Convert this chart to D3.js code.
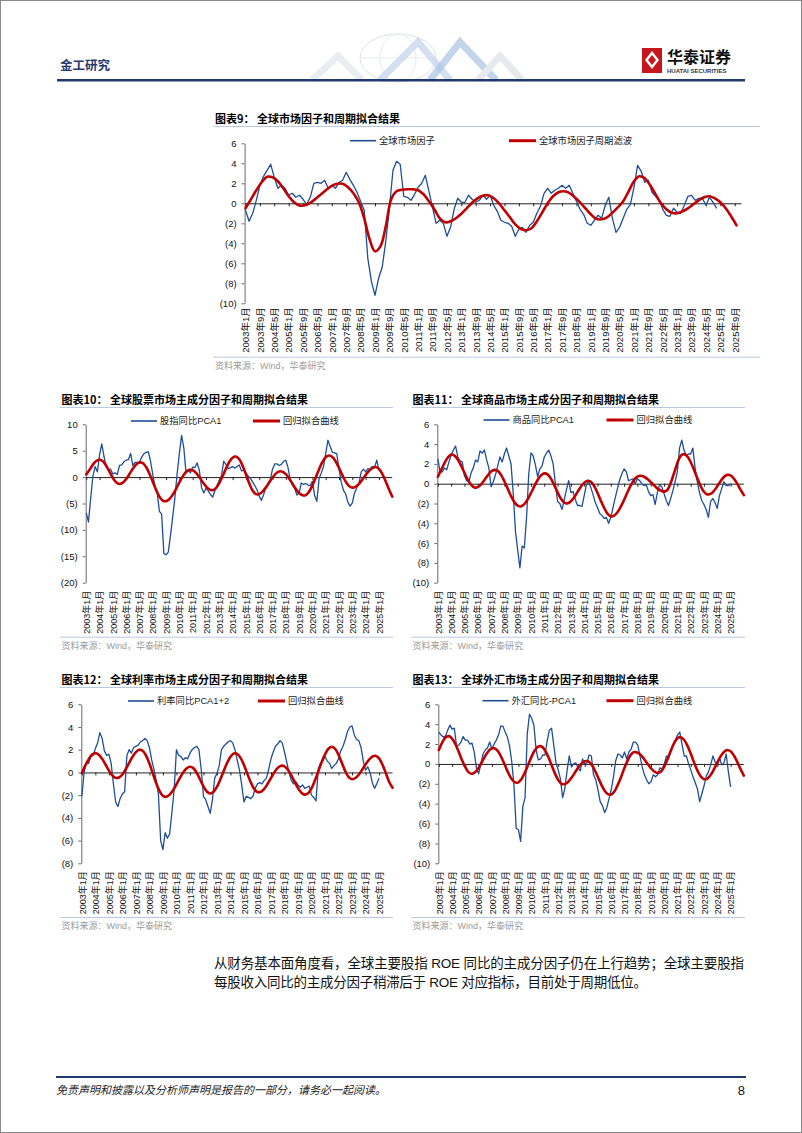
<!DOCTYPE html>
<html><head><meta charset="utf-8">
<script src="https://cdn.jsdelivr.net/npm/d3@7"></script>
<style>body{margin:0;background:#fff;}svg{display:block;}</style>
</head><body>
<svg id="page" width="802" height="1133"></svg>
<script>
// ---------------- DATA ----------------
// Month index 0 = 2003年1月. Blue series sampled every 2 months, red fits every 3 months.
const xLabels9 = ["2003年1月","2003年9月","2004年5月","2005年1月","2005年9月","2006年5月","2007年1月","2007年9月","2008年5月","2009年1月","2009年9月","2010年5月","2011年1月","2011年9月","2012年5月","2013年1月","2013年9月","2014年5月","2015年1月","2015年9月","2016年5月","2017年1月","2017年9月","2018年5月","2019年1月","2019年9月","2020年5月","2021年1月","2021年9月","2022年5月","2023年1月","2023年9月","2024年5月","2025年1月","2025年9月"];
const xLabelsYear = ["2003年1月","2004年1月","2005年1月","2006年1月","2007年1月","2008年1月","2009年1月","2010年1月","2011年1月","2012年1月","2013年1月","2014年1月","2015年1月","2016年1月","2017年1月","2018年1月","2019年1月","2020年1月","2021年1月","2022年1月","2023年1月","2024年1月","2025年1月"];

const yTicks9 = [6,4,2,0,-2,-4,-6,-8,-10];
const yTicks10 = [10,5,0,-5,-10,-15,-20];
const yTicks11 = [6,4,2,0,-2,-4,-6,-8,-10];
const yTicks12 = [6,4,2,0,-2,-4,-6,-8];
const yTicks13 = [6,4,2,0,-2,-4,-6,-8,-10];

const blue9 = [-0.7,-1.8,-1.0,0.3,1.8,2.7,3.3,3.9,2.6,1.5,
 1.8,1.5,0.8,1.0,0.6,0.8,0.4,-0.1,0.6,2.0,
 2.1,2.0,2.3,1.5,1.8,1.5,2.1,2.3,3.1,2.4,
 1.8,1.1,0.2,-0.7,-5.5,-7.8,-9.2,-7.5,-6.4,-3.8,
 -0.5,3.3,4.2,3.9,0.7,0.6,0.3,0.9,1.6,2.0,
 2.8,1.2,-0.4,-2.0,-1.7,-2.0,-3.3,-2.4,-0.6,0.5,
 0.1,0.1,0.8,0.4,0.1,0.3,0.8,0.4,0.8,-0.2,
 -0.8,-1.7,-1.9,-2.0,-2.3,-3.3,-2.6,-2.4,-2.9,-2.2,
 -1.9,-1.0,-0.3,1.0,1.5,1.0,1.3,1.5,1.8,1.5,
 1.8,1.0,0.2,-0.6,-1.1,-2.0,-2.2,-1.7,-1.2,-1.5,
 -0.2,0.6,-1.5,-2.9,-2.4,-1.5,-0.6,-0.1,1.6,3.8,
 3.2,2.1,2.3,1.1,0.7,0.3,-0.6,-1.2,-1.3,-0.5,
 -0.9,-1.0,-0.2,0.7,0.8,0.3,0.5,0.5,-0.2,0.6,
 0.1,-0.5];
const red9 = [-0.5,0.4,1.3,2.1,2.65,2.6,2.2,1.5,0.7,0.1,
 -0.22,-0.2,0.05,0.45,0.9,1.35,1.75,1.95,1.95,1.6,
 1.0,0.1,-1.5,-3.6,-4.8,-4.3,-2.3,0.4,1.2,1.35,
 1.4,1.4,1.3,0.9,0.2,-0.6,-1.5,-1.9,-1.8,-1.5,
 -1.05,-0.5,0.05,0.5,0.75,0.8,0.5,0.0,-0.7,-1.4,
 -2.1,-2.55,-2.7,-2.5,-1.8,-0.9,0.0,0.7,1.1,1.2,
 1.05,0.6,0.1,-0.5,-1.1,-1.55,-1.6,-1.4,-0.95,-0.4,
 0.2,1.2,2.2,2.7,2.5,1.8,0.9,0.0,-0.6,-0.95,
 -1.0,-0.8,-0.5,-0.1,0.3,0.6,0.7,0.5,0.1,-0.5,
 -1.3,-2.2];

const blue10 = [-6.8,-8.5,-4.0,0.2,2.0,1.0,4.2,6.3,3.9,2.0,
 1.4,1.5,0.6,0.8,0.5,2.2,2.3,2.9,3.2,3.3,
 4.5,2.2,2.8,2.8,2.8,3.8,4.4,4.7,4.8,3.0,
 0.5,-1.8,-3.0,-6.5,-7.0,-14.5,-14.7,-14.2,-11.0,-7.5,
 -3.8,0.7,4.5,7.9,5.5,0.8,1.3,0.8,1.9,1.8,
 2.7,1.3,-2.0,-3.0,-2.1,-2.6,-3.3,-3.8,-2.6,-1.6,
 -0.6,0.3,3.0,2.4,1.6,1.8,2.0,1.7,2.0,2.3,
 1.2,1.3,0.8,0.2,-0.2,-0.9,-1.6,-2.4,-3.6,-4.4,
 -3.3,-2.0,-1.2,-0.5,1.5,2.5,2.5,2.2,2.4,3.0,
 3.2,1.8,-0.6,-1.5,-2.1,-3.4,-3.0,-1.1,-1.4,-1.2,
 -1.5,-1.6,-0.8,-3.5,-4.6,-0.3,0.8,2.0,4.5,7.0,
 5.8,4.7,4.6,4.4,1.5,-1.0,-2.5,-3.2,-4.8,-5.5,
 -4.9,-3.0,-2.0,-1.2,1.0,1.5,1.0,1.6,1.5,2.0,
 1.8,3.2,1.3];
const red10 = [0.5,1.4,2.35,3.05,3.3,2.99,2.15,1.0,-0.15,-0.99,
 -1.3,-1.05,-0.37,0.58,1.58,2.37,2.77,2.65,1.9,0.63,
 -0.9,-2.43,-3.7,-4.45,-4.57,-4.16,-3.33,-2.21,-0.99,0.14,
 0.96,1.37,1.3,0.8,0.0,-0.94,-1.76,-2.34,-2.49,-2.08,
 -1.12,0.2,1.61,2.86,3.66,3.89,3.38,2.16,0.52,-1.18,
 -2.53,-3.23,-3.22,-2.76,-1.97,-1.02,-0.09,0.66,1.06,1.03,
 0.56,-0.26,-1.25,-2.24,-3.02,-3.45,-3.41,-2.75,-1.57,-0.07,
 1.5,2.86,3.77,4.1,3.8,2.95,1.73,0.37,-0.85,-1.7,
 -2.0,-1.81,-1.27,-0.48,0.38,1.17,1.71,1.9,1.56,0.6,
 -0.78,-2.3,-3.7];

const blue11 = [2.5,1.2,1.2,1.6,1.4,2.2,2.9,3.4,3.8,2.7,
 2.3,2.2,0.8,0.3,0.2,1.1,1.6,2.4,2.2,3.3,
 3.1,3.4,2.4,1.6,-0.3,0.2,0.9,1.8,2.7,2.2,
 3.0,3.6,2.8,2.0,-1.0,-4.8,-6.7,-8.5,-6.3,-6.5,
 -3.4,1.0,3.1,2.8,1.9,0.7,1.5,1.8,2.7,3.1,
 3.4,2.8,2.0,0.0,-1.8,-2.0,-2.6,-1.6,-0.6,0.3,
 -0.9,-0.8,-1.6,-2.2,-2.2,-2.3,-1.2,-0.1,0.2,-0.4,
 -1.1,-1.9,-2.4,-3.0,-3.2,-3.5,-3.4,-4.0,-3.4,-2.4,
 -1.4,-0.5,0.4,1.0,1.5,1.2,0.3,0.4,0.5,0.0,
 0.5,0.3,0.0,-0.2,-0.1,-0.8,-1.2,-1.1,-2.1,-0.9,
 -0.1,-0.3,-1.0,-1.7,-2.2,-1.5,-0.7,0.2,1.2,3.6,
 4.4,3.4,2.9,3.0,3.0,3.6,1.6,0.2,-0.9,-1.7,
 -2.1,-2.6,-3.4,-1.8,-1.5,-1.9,-2.5,-1.2,-0.5,0.2,
 -0.2,-0.2,0.0];
const red11 = [0.7,1.4,2.1,2.65,2.95,2.83,2.43,1.81,1.09,0.42,
 -0.11,-0.38,-0.35,-0.07,0.37,0.84,1.23,1.4,1.29,0.89,
 0.25,-0.5,-1.25,-1.86,-2.22,-2.29,-2.06,-1.58,-0.94,-0.25,
 0.38,0.84,1.04,0.94,0.51,-0.15,-0.88,-1.51,-1.91,-1.99,
 -1.78,-1.37,-0.83,-0.3,0.1,0.29,0.2,-0.23,-0.92,-1.72,
 -2.44,-3.03,-3.29,-3.22,-2.88,-2.31,-1.63,-0.87,-0.18,0.39,
 0.72,0.8,0.7,0.47,0.17,-0.16,-0.47,-0.69,-0.8,-0.64,
 0.07,1.06,2.08,2.81,2.99,2.75,2.19,1.42,0.56,-0.22,
 -0.81,-1.08,-1.03,-0.73,-0.26,0.24,0.67,0.89,0.84,0.52,
 0.0,-0.6,-1.16];

const blue12 = [-2.1,0.0,0.9,0.8,1.4,1.5,2.1,2.6,3.5,3.0,
 1.9,1.5,1.6,0.8,-1.0,-2.6,-3.0,-2.3,-1.9,-1.7,
 1.5,2.0,1.7,2.2,2.3,2.4,2.7,2.8,3.0,2.8,
 2.2,1.1,0.3,-0.7,-1.9,-6.0,-6.8,-5.3,-5.8,-5.4,
 -3.5,-1.5,2.0,1.5,1.4,1.1,1.3,1.2,1.7,2.0,
 2.2,2.3,2.0,0.3,-2.1,-2.4,-3.0,-3.6,-2.4,-0.5,
 -0.1,0.6,2.0,2.3,2.5,2.7,2.8,2.6,2.0,1.1,
 0.2,-1.1,-2.6,-2.1,-2.2,-2.3,-2.1,-1.4,-1.0,-0.9,
 -1.0,-0.7,-0.5,0.3,1.2,1.8,2.3,2.5,2.8,2.6,
 1.8,0.9,0.0,-0.7,-1.0,-0.8,-1.1,-1.3,-1.1,-1.4,
 -1.3,-1.2,-2.0,-2.2,-2.5,0.3,0.8,1.0,1.4,1.0,
 0.8,0.35,0.6,0.8,1.2,1.9,2.3,2.9,3.6,4.0,
 4.1,3.3,2.9,2.8,2.2,1.0,0.2,0.5,0.0,-0.9,
 -1.4,-1.0,-0.5];
const red12 = [-0.05,0.6,1.15,1.55,1.7,1.56,1.2,0.7,0.18,-0.25,
 -0.48,-0.45,-0.18,0.28,0.84,1.38,1.79,1.99,1.91,1.48,
 0.78,-0.08,-0.93,-1.63,-2.06,-2.14,-1.95,-1.57,-1.06,-0.5,
 0.0,0.35,0.5,0.38,-0.03,-0.62,-1.22,-1.68,-1.85,-1.7,
 -1.27,-0.62,0.12,0.83,1.38,1.67,1.64,1.28,0.65,-0.12,
 -0.86,-1.44,-1.73,-1.7,-1.44,-1.0,-0.49,0.01,0.4,0.59,
 0.54,0.24,-0.25,-0.83,-1.38,-1.78,-1.95,-1.83,-1.4,-0.72,
 0.08,0.91,1.59,2.09,2.26,2.08,1.55,0.83,0.11,-0.41,
 -0.6,-0.49,-0.19,0.24,0.71,1.11,1.39,1.47,1.24,0.69,
 -0.05,-0.84,-1.35];

const blue13 = [3.2,2.9,2.7,2.8,3.4,3.9,3.5,3.6,1.8,1.9,
 2.2,2.75,2.4,2.4,2.0,2.1,1.2,-0.4,-1.0,0.0,
 1.0,1.4,1.6,2.2,1.5,2.0,2.4,2.9,3.8,3.8,
 3.2,2.7,1.8,0.2,-2.2,-6.5,-6.6,-7.8,-4.3,-3.4,
 3.0,5.0,4.6,3.9,1.4,0.4,0.5,0.9,0.9,2.3,
 3.4,3.6,1.9,0.1,-0.6,-1.5,-3.4,-2.5,-0.7,0.8,
 -0.3,0.0,0.1,-0.4,-0.7,0.5,0.0,0.1,0.9,0.8,
 -1.1,-1.6,-2.6,-3.8,-4.2,-4.9,-4.4,-3.5,-2.6,-1.3,
 0.3,1.0,0.9,0.6,1.2,0.5,1.2,1.5,2.2,2.2,
 1.9,0.8,-0.3,-1.1,-1.6,-2.0,-1.8,-1.1,-1.3,-1.1,
 -0.4,-0.5,0.0,0.8,0.6,1.4,1.9,2.4,2.9,3.2,
 2.0,0.8,0.8,0.0,-0.6,-1.3,-1.9,-2.5,-3.8,-3.0,
 -2.2,-1.2,-0.8,-0.1,0.8,0.2,-0.1,0.6,-0.1,0.1,
 1.0,-0.8,-2.3];
const red13 = [1.4,2.15,2.66,2.8,2.55,1.98,1.21,0.37,-0.35,-0.85,
 -1.0,-0.82,-0.39,0.19,0.81,1.3,1.57,1.54,1.19,0.57,
 -0.19,-0.94,-1.54,-1.86,-1.85,-1.48,-0.83,-0.04,0.76,1.39,
 1.76,1.75,1.38,0.72,-0.11,-0.95,-1.61,-2.0,-2.02,-1.81,
 -1.4,-0.9,-0.39,0.02,0.26,0.27,-0.04,-0.61,-1.34,-2.08,
 -2.69,-3.04,-3.07,-2.74,-2.07,-1.28,-0.39,0.38,0.97,1.2,
 1.12,0.86,0.45,-0.01,-0.44,-0.76,-0.9,-0.77,-0.26,0.5,
 1.36,2.11,2.59,2.69,2.41,1.82,1.02,0.13,-0.67,-1.26,
 -1.54,-1.47,-1.1,-0.53,0.14,0.77,1.21,1.4,1.27,0.84,
 0.2,-0.53,-1.17];

const BLUE_STEP = 2, RED_STEP = 3, N_MONTHS = 276;

// ---------------- STYLE ----------------
const CJK = '"Noto Sans CJK SC", sans-serif';
const LAT = '"Liberation Sans", Arial, "Noto Sans CJK SC", sans-serif';
const BLUE = '#1f4e96', RED = '#c00000', RULE = '#b9c9df', NAVY = '#1f3a6d';

const svg = d3.select('#page');
svg.append('rect').attr('x',0.5).attr('y',0.5).attr('width',801).attr('height',1132)
  .attr('fill','#fff').attr('stroke','#8a8a8a');

// ---------------- HEADER ----------------
const hdr = svg.append('g');
const deco = hdr.append('g').attr('fill','none');
deco.append('ellipse').attr('cx',398).attr('cy',58).attr('rx',38).attr('ry',24).attr('stroke','#dde2ea').attr('stroke-width',1);
deco.append('ellipse').attr('cx',398).attr('cy',58).attr('rx',18).attr('ry',24).attr('stroke','#e6eaf0').attr('stroke-width',1);
deco.append('line').attr('x1',360).attr('x2',436).attr('y1',58).attr('y2',58).attr('stroke','#e6eaf0');
deco.append('polyline').attr('points','312,80 338,56 362,80').attr('stroke','#eaeef3').attr('stroke-width',7);
deco.append('polyline').attr('points','380,80 418,42 450,80').attr('stroke','#c9d8ec').attr('stroke-width',7).attr('opacity',0.8);
deco.append('polyline').attr('points','430,80 460,42 496,80').attr('stroke','#a9c3e6').attr('stroke-width',7).attr('opacity',0.7);
deco.append('polyline').attr('points','478,80 500,56 522,80').attr('stroke','#e6eaef').attr('stroke-width',7);
hdr.append('text').attr('x',60).attr('y',70).attr('font-family',CJK).attr('font-weight',700)
  .attr('font-size',12.5).attr('fill',NAVY).text('金工研究');
hdr.append('rect').attr('x',57).attr('y',79).attr('width',688).attr('height',2.5).attr('fill',NAVY);
hdr.append('rect').attr('x',642).attr('y',48).attr('width',20).attr('height',25).attr('fill','#c8161d');
hdr.append('path').attr('d','M652,51 L659,60 L652,69 L645,60 Z').attr('fill','#fff');
hdr.append('path').attr('d','M652,55 L656,60 L652,65 L648,60 Z').attr('fill','#c8161d');
hdr.append('text').attr('x',667).attr('y',63).attr('font-family',CJK).attr('font-weight',700)
  .attr('font-size',16).attr('fill','#111').text('华泰证券');
hdr.append('text').attr('x',667).attr('y',73).attr('font-family',LAT).attr('font-weight',700)
  .attr('font-size',6).attr('fill','#333').text('HUATAI SECURITIES');

// ---------------- CHARTS ----------------
const fmt = v => v < 0 ? `(${-v})` : `${v}`;

function drawChart(c) {
  const g = svg.append('g');
  const x = d3.scaleLinear().domain([-0.5, N_MONTHS - 0.5]).range([c.left, c.right]);
  const y = d3.scaleLinear().domain([c.yMin, c.yMax]).range([c.bottom, c.top]);

  g.append('text').attr('x', c.titleX).attr('y', c.titleY).attr('font-family', CJK)
    .attr('font-weight', 700).attr('font-size', 11).attr('fill', '#000').text(c.title);
  g.append('line').attr('x1', c.ruleX1).attr('x2', c.ruleX2).attr('y1', c.titleY + 3.5).attr('y2', c.titleY + 3.5)
    .attr('stroke', RULE).attr('stroke-width', 1);

  const ya = g.append('g').attr('transform', `translate(${c.left},0)`)
    .call(d3.axisLeft(y).tickValues(c.yTicks).tickSize(3).tickSizeOuter(0).tickPadding(5).tickFormat(fmt));
  ya.select('.domain').attr('stroke', '#6a6a6a');
  ya.selectAll('.tick line').attr('stroke', '#6a6a6a');
  ya.selectAll('.tick text').attr('font-family', LAT).attr('font-size', 9.5).attr('fill', '#111');

  const tickMonths = c.xLabels.map((d, i) => i * c.xStep);
  const za = g.append('g').attr('transform', `translate(0,${y(0)})`)
    .call(d3.axisBottom(x).tickValues(tickMonths).tickSize(3).tickSizeOuter(0).tickFormat(''));
  za.select('.domain').attr('stroke', '#222');
  za.selectAll('.tick line').attr('stroke', '#222');

  const la = g.append('g').attr('transform', `translate(0,${c.bottom})`)
    .call(d3.axisBottom(x).tickValues(tickMonths).tickSize(0).tickFormat((d, i) => c.xLabels[i]));
  la.select('.domain').remove();
  la.selectAll('.tick text').attr('font-family', LAT).attr('font-size', c.xFont).attr('fill', '#111')
    .attr('transform', 'rotate(-90)').attr('text-anchor', 'end')
    .attr('x', -c.labelGap).attr('y', 0).attr('dy', '0.35em');

  const lineBlue = d3.line().x((d, i) => x(i * BLUE_STEP)).y(d => y(d));
  const lineRed = d3.line().x((d, i) => x(i * RED_STEP)).y(d => y(d)).curve(d3.curveCatmullRom);
  g.append('path').datum(c.blue).attr('d', lineBlue).attr('fill', 'none')
    .attr('stroke', BLUE).attr('stroke-width', 1.3).attr('stroke-linejoin', 'round');
  g.append('path').datum(c.red).attr('d', lineRed).attr('fill', 'none')
    .attr('stroke', RED).attr('stroke-width', 2.6).attr('stroke-linecap', 'round');

  const lg = g.append('g');
  lg.append('line').attr('x1', c.leg[0]).attr('x2', c.leg[0] + 26).attr('y1', c.legY).attr('y2', c.legY)
    .attr('stroke', BLUE).attr('stroke-width', 1.6);
  lg.append('text').attr('x', c.leg[0] + 29).attr('y', c.legY).attr('dy', '0.35em')
    .attr('font-family', LAT).attr('font-size', 9.3).attr('fill', '#222').text(c.blueName);
  lg.append('line').attr('x1', c.leg[1]).attr('x2', c.leg[1] + 27).attr('y1', c.legY).attr('y2', c.legY)
    .attr('stroke', RED).attr('stroke-width', 3);
  lg.append('text').attr('x', c.leg[1] + 30).attr('y', c.legY).attr('dy', '0.35em')
    .attr('font-family', LAT).attr('font-size', 9.3).attr('fill', '#222').text(c.redName);

  g.append('line').attr('x1', c.ruleX1).attr('x2', c.ruleX2).attr('y1', c.srcY - 8.5).attr('y2', c.srcY - 8.5)
    .attr('stroke', RULE).attr('stroke-width', 1);
  g.append('text').attr('x', c.titleX).attr('y', c.srcY).attr('dy', '0.35em').attr('font-family', LAT)
    .attr('font-size', 9).attr('fill', '#9a9a9a').text('资料来源：Wind，华泰研究');
}

const charts = [
  {title:'图表9： 全球市场因子和周期拟合结果', titleX:215, titleY:123, ruleX1:213, ruleX2:760,
   left:244.6, right:741, top:143.3, bottom:303.3, yMin:-10, yMax:6, yTicks:yTicks9,
   xLabels:xLabels9, xStep:8, xFont:9.5, labelGap:4,
   blue:blue9, red:red9, blueName:'全球市场因子', redName:'全球市场因子周期滤波',
   leg:[350, 509], legY:140.7, srcY:365.7},
  {title:'图表10： 全球股票市场主成分因子和周期拟合结果', titleX:61.5, titleY:404, ruleX1:60, ruleX2:393,
   left:85.7, right:391.7, top:424.3, bottom:582.7, yMin:-20, yMax:10, yTicks:yTicks10,
   xLabels:xLabelsYear, xStep:12, xFont:9, labelGap:8,
   blue:blue10, red:red10, blueName:'股指同比PCA1', redName:'回归拟合曲线',
   leg:[131, 253], legY:421, srcY:645.7},
  {title:'图表11： 全球商品市场主成分因子和周期拟合结果', titleX:412.5, titleY:404, ruleX1:411, ruleX2:745,
   left:437.3, right:743.3, top:424.3, bottom:582.7, yMin:-10, yMax:6, yTicks:yTicks11,
   xLabels:xLabelsYear, xStep:12, xFont:9, labelGap:8,
   blue:blue11, red:red11, blueName:'商品同比PCA1', redName:'回归拟合曲线',
   leg:[483.5, 606.5], legY:420, srcY:645.7},
  {title:'图表12： 全球利率市场主成分因子和周期拟合结果', titleX:61.5, titleY:684, ruleX1:60, ruleX2:393,
   left:81.3, right:392, top:704.3, bottom:863.3, yMin:-8, yMax:6, yTicks:yTicks12,
   xLabels:xLabelsYear, xStep:12, xFont:9, labelGap:8,
   blue:blue12, red:red12, blueName:'利率同比PCA1+2', redName:'回归拟合曲线',
   leg:[128, 258], legY:701, srcY:926},
  {title:'图表13： 全球外汇市场主成分因子和周期拟合结果', titleX:412.5, titleY:684, ruleX1:411, ruleX2:745,
   left:438.3, right:743.3, top:704.3, bottom:863.3, yMin:-10, yMax:6, yTicks:yTicks13,
   xLabels:xLabelsYear, xStep:12, xFont:9, labelGap:8,
   blue:blue13, red:red13, blueName:'外汇同比-PCA1', redName:'回归拟合曲线',
   leg:[482.5, 606.5], legY:700.7, srcY:926}
];
charts.forEach(drawChart);

// ---------------- BODY TEXT & FOOTER ----------------
const para = ['从财务基本面角度看，全球主要股指 ROE 同比的主成分因子仍在上行趋势；全球主要股指',
              '每股收入同比的主成分因子稍滞后于 ROE 对应指标，目前处于周期低位。'];
svg.append('text').attr('x',214).attr('y',967.5).attr('font-family',LAT).attr('font-size',13.5)
  .attr('fill','#111').attr('textLength',530).attr('lengthAdjust','spacing').text(para[0]);
svg.append('text').attr('x',214).attr('y',986.5).attr('font-family',LAT).attr('font-size',13.5)
  .attr('fill','#111').attr('textLength',433).attr('lengthAdjust','spacing').text(para[1]);

svg.append('rect').attr('x',56).attr('y',1076).attr('width',690).attr('height',2).attr('fill',NAVY);
svg.append('text').attr('x',56).attr('y',1094).attr('font-family',CJK).attr('font-size',11)
  .attr('font-style','italic').attr('fill','#222').text('免责声明和披露以及分析师声明是报告的一部分，请务必一起阅读。');
svg.append('text').attr('x',745).attr('y',1095).attr('text-anchor','end').attr('font-family',LAT)
  .attr('font-size',13).attr('fill','#111').text('8');
</script>
</body></html>
